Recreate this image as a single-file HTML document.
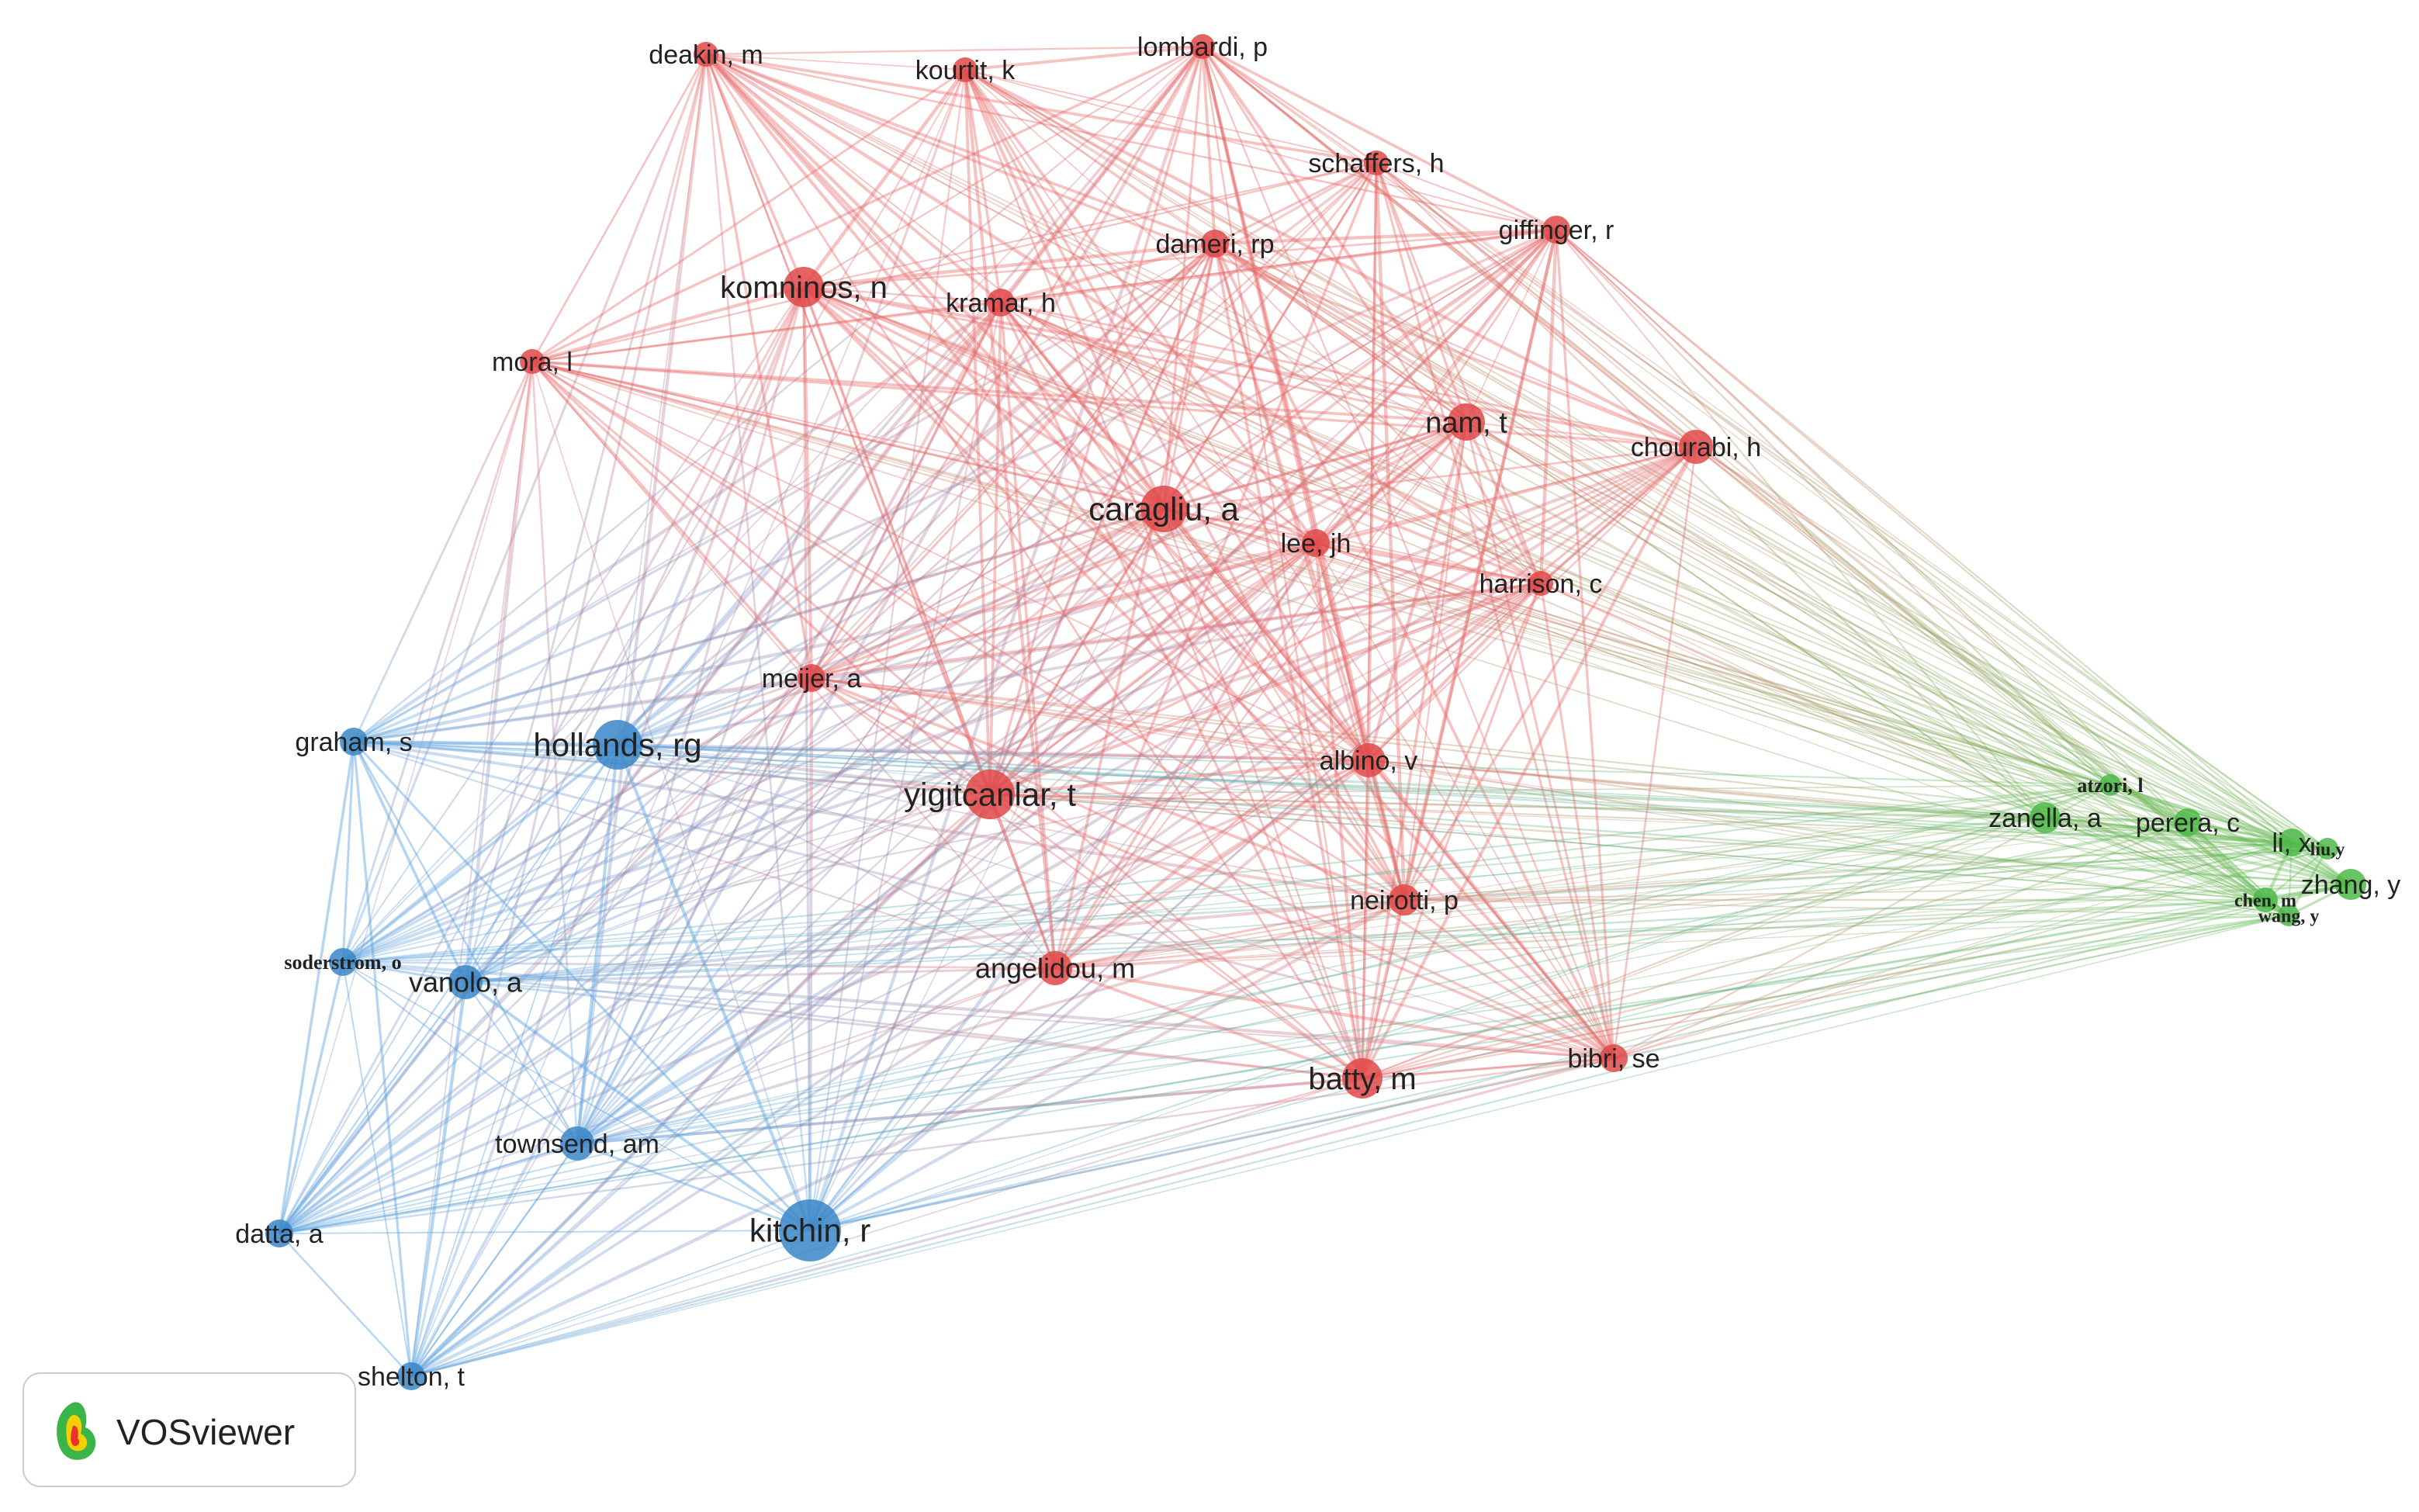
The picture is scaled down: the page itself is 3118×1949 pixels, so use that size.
<!DOCTYPE html>
<html><head><meta charset="utf-8">
<style>
html,body{margin:0;padding:0;background:#fff;}
svg{display:block;}
text{font-family:"Liberation Sans",sans-serif;fill:#222;}
</style></head>
<body>
<svg id="s" width="3118" height="1949" viewBox="0 0 3118 1949" xmlns="http://www.w3.org/2000/svg">
<defs id="defs"></defs>
<g id="edges"></g><g id="nodes"></g><g id="labels"></g>
<rect x="30" y="1770" width="428" height="146" rx="22" fill="#fff" stroke="#ccc" stroke-width="2"/>
<g transform="translate(70,1800)">
<path d="M20 10 C35 0 45 20 40 40 C55 45 60 70 40 80 C25 85 10 80 5 60 C0 40 5 20 20 10Z" fill="#3bb44a"/>
<path d="M22 25 C32 20 38 35 34 48 C44 52 46 66 34 70 C24 72 16 66 16 52 C14 40 16 30 22 25Z" fill="#f4d000"/>
<path d="M24 38 C30 36 32 46 30 54 C34 58 32 64 26 64 C20 62 20 50 24 38Z" fill="#e8322b"/>
</g>
<text x="150" y="1862" font-size="46" fill="#333">VOSviewer</text>
</svg>
<script>
var N=[
["deakin, m",910,70,16,34,"r"],["kourtit, k",1244,90,16,34,"r"],["lombardi, p",1550,60,16,34,"r"],
["schaffers, h",1774,210,16,34,"r"],["giffinger, r",2006,296,18,34,"r"],["dameri, rp",1566,314,18,34,"r"],
["komninos, n",1036,370,26,40,"r"],["kramar, h",1290,390,18,34,"r"],["mora, l",686,466,16,34,"r"],
["nam, t",1890,544,24,38,"r"],["chourabi, h",2186,576,22,34,"r"],["caragliu, a",1500,656,30,42,"r"],
["lee, jh",1696,700,18,34,"r"],["harrison, c",1986,752,16,34,"r"],["meijer, a",1046,874,18,34,"r"],
["albino, v",1764,980,22,34,"r"],["yigitcanlar, t",1276,1024,32,42,"r"],["neirotti, p",1810,1160,20,34,"r"],
["angelidou, m",1360,1248,22,36,"r"],["batty, m",1756,1390,26,40,"r"],["bibri, se",2080,1364,18,34,"r"],
["graham, s",456,956,18,34,"b"],["hollands, rg",796,960,32,42,"b"],["soderstrom, o",442,1240,18,26,"b",1],
["vanolo, a",600,1266,22,36,"b"],["townsend, am",744,1474,22,34,"b"],["kitchin, r",1044,1586,40,42,"b"],
["datta, a",360,1590,18,34,"b"],["shelton, t",530,1774,18,34,"b"],
["zanella, a",2636,1054,20,34,"g"],["perera, c",2820,1060,18,34,"g"],["li, x",2954,1086,18,34,"g"],
["zhang, y",3030,1140,20,34,"g"],["chen, m",2920,1160,16,24,"g",1],["wang, y",2950,1180,14,24,"g",1],
["atzori, l",2720,1012,14,26,"g",1],["liu,y",3000,1094,14,24,"g",1]
];
var NC={r:"#e04848",b:"#3a86c8",g:"#4cb848"};
var EC={r:"#e86a6a",b:"#5ca2e0",g:"#66bb55"};
var ns="http://www.w3.org/2000/svg",E=document.getElementById("edges"),D=document.getElementById("defs"),
ND=document.getElementById("nodes"),L=document.getElementById("labels");
function el(t,a,p){var e=document.createElementNS(ns,t);for(var k in a)e.setAttribute(k,a[k]);p.appendChild(e);return e;}
var seed=7;function rnd(){seed=(seed*16807)%2147483647;return seed/2147483647;}
var gid=0;
for(var i=0;i<N.length;i++)for(var j=i+1;j<N.length;j++){
 var a=N[i],b=N[j],k=a[5]+b[5],op=0.4,w=1.5+rnd()*3,p=rnd(),stroke;
 if(k=="rr"){if(p<0.08)continue;}
 else if(k=="bb"){op=0.45;}
 else if(k=="gg"){if(p<0.3)continue;}
 else if(k=="rb"||k=="br"){op=0.35;if(p>0.85)continue;}
 else {op=0.35;w=1+rnd()*1.5;if(p<0.3)continue;}
 if(a[5]==b[5]) stroke=EC[a[5]];
 else{
  var g=el("linearGradient",{id:"g"+gid,gradientUnits:"userSpaceOnUse",x1:a[1],y1:a[2],x2:b[1],y2:b[2]},D);
  el("stop",{offset:"0","stop-color":EC[a[5]]},g);el("stop",{offset:"1","stop-color":EC[b[5]]},g);
  stroke="url(#g"+gid+")";gid++;
 }
 el("line",{x1:a[1],y1:a[2],x2:b[1],y2:b[2],stroke:stroke,"stroke-width":w,"stroke-opacity":op},E);
}
N.forEach(function(n){
 el("circle",{cx:n[1],cy:n[2],r:n[3],fill:NC[n[5]],"fill-opacity":0.85},ND);
 var t=el("text",{x:n[1],y:n[2]+n[4]*0.35,"font-size":n[4],"text-anchor":"middle"},L);
 if(n[6]){t.setAttribute("style","font-family:'Liberation Serif',serif;font-weight:bold");}
 t.textContent=n[0];
});
</script>
</body></html>
